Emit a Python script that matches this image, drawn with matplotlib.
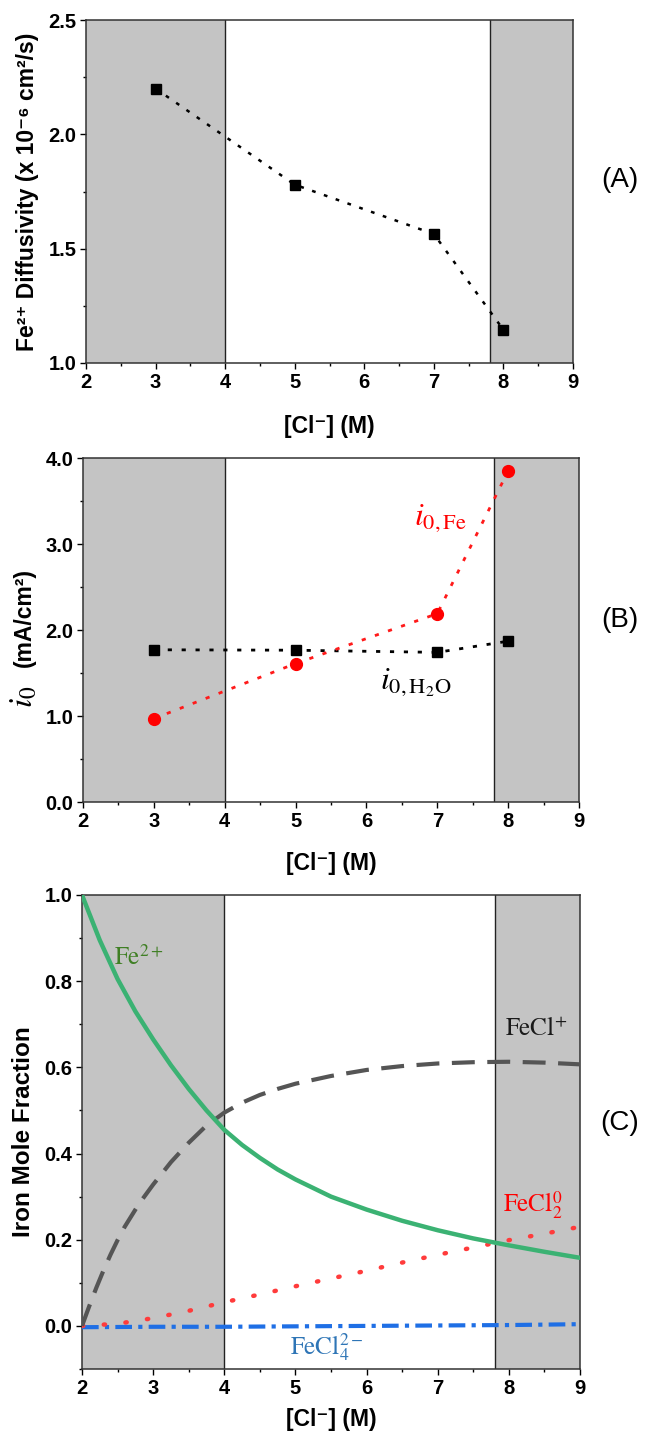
import numpy as np
import matplotlib
matplotlib.use("Agg")
import matplotlib.pyplot as plt
from matplotlib.ticker import MultipleLocator

plt.rcParams['font.family'] = ['Liberation Sans', 'DejaVu Sans']
plt.rcParams['axes.labelweight'] = 'bold'
plt.rcParams['mathtext.fontset'] = 'stix'

# (A) Fe2+ diffusivity vs chloride
cl_a = [3, 5, 7, 8]
diff_fe = [2.20, 1.78, 1.564, 1.145]

# (B) exchange current densities
cl_b = [3, 5, 7, 8]
i0_fe = [0.97, 1.61, 2.19, 3.85]
i0_h2o = [1.77, 1.765, 1.74, 1.87]

# (C) iron speciation
cl_fe2 = [2.0, 2.25, 2.5, 2.75, 3.0, 3.25, 3.5, 3.75, 4.0, 4.25, 4.5, 4.75, 5.0,
          5.5, 6.0, 6.5, 7.0, 7.5, 8.0, 8.5, 9.0]
x_fe2 = [1.0, 0.895, 0.805, 0.73, 0.665, 0.605, 0.55, 0.50, 0.455, 0.42, 0.39, 0.363, 0.34,
         0.30, 0.27, 0.244, 0.222, 0.203, 0.187, 0.172, 0.158]

cl_fecl = [2.0, 2.1, 2.2, 2.3, 2.4, 2.5, 2.6, 2.8, 3.0, 3.25, 3.5, 3.75, 4.0, 4.25, 4.5,
           4.75, 5.0, 5.5, 6.0, 6.5, 7.0, 7.5, 8.0, 8.5, 9.0]
x_fecl = [0.0, 0.045, 0.088, 0.128, 0.165, 0.199, 0.23, 0.283, 0.328, 0.38, 0.425, 0.465,
          0.495, 0.518, 0.536, 0.55, 0.562, 0.58, 0.594, 0.603, 0.609, 0.612, 0.613, 0.611, 0.607]

cl_fecl2 = [2.0, 2.5, 3.0, 3.5, 4.0, 4.5, 5.0, 5.5, 6.0, 6.5, 7.0, 7.5, 8.0, 8.5, 9.0]
x_fecl2 = [0.0, 0.005, 0.018, 0.035, 0.055, 0.073, 0.092, 0.11, 0.128, 0.147, 0.165, 0.182,
           0.199, 0.214, 0.23]

cl_fecl4 = [2, 3, 4, 5, 6, 7, 8, 9]
x_fecl4 = [-0.003, -0.002, -0.002, -0.001, 0.0, 0.001, 0.002, 0.004]

shade = '#c4c4c4'
W, H = 654, 1435

fig = plt.figure(figsize=(W / 100, H / 100), dpi=100)


def make_axes(l, r, t, b):
    return fig.add_axes([l / W, 1 - b / H, (r - l) / W, (b - t) / H])


def style(ax, ylim, ymaj, ymin):
    ax.set_xlim(2, 9)
    ax.set_ylim(*ylim)
    ax.axvspan(2, 4, color=shade, zorder=0, lw=0)
    ax.axvspan(7.8, 9, color=shade, zorder=0, lw=0)
    ax.axvline(4, color='#222222', lw=1, zorder=1)
    ax.axvline(7.8, color='#222222', lw=1, zorder=1)
    ax.xaxis.set_major_locator(MultipleLocator(1))
    ax.xaxis.set_minor_locator(MultipleLocator(0.5))
    ax.yaxis.set_major_locator(MultipleLocator(ymaj))
    ax.yaxis.set_minor_locator(MultipleLocator(ymin))
    ax.yaxis.set_major_formatter('{x:.1f}')
    ax.tick_params(which='major', direction='out', length=4, width=1, pad=3, labelsize=14.5)
    ax.tick_params(which='minor', direction='out', length=2.5, width=1)
    for sp in ax.spines.values():
        sp.set_color('#333333')
        sp.set_linewidth(1.1)


def panel_tag(y, tag):
    fig.text(620 / W, 1 - y / H, tag, fontsize=20, ha='center', va='center')


def species(ax, x, y, s, color):
    ax.text(x, y, s, color=color, fontsize=18, va='center')


# ---- (A)
ax1 = make_axes(86, 573, 20, 363)
style(ax1, (1.0, 2.5), 0.5, 0.25)
ax1.plot(cl_a, diff_fe, color='black', ls=(0, (1.5, 3.5)), lw=1.8,
         marker='s', ms=7, mfc='black', mec='black', zorder=3)
ax1.set_xlabel('[Cl⁻] (M)', fontsize=16.5)
ax1.xaxis.set_label_coords(0.5, -0.152)
ax1.set_ylabel('Fe²⁺ Diffusivity (x 10⁻⁶ cm²/s)', fontsize=16.5)
ax1.yaxis.set_label_coords(-0.097, 0.5)
panel_tag(180, '(A)')

# ---- (B)
ax2 = make_axes(83, 579, 458, 802)
style(ax2, (0.0, 4.0), 1.0, 0.5)
ax2.plot(cl_b, i0_h2o, color='black', ls=(0, (1.5, 3.5)), lw=2,
         marker='s', ms=7, mfc='black', mec='black', zorder=3)
ax2.plot(cl_b, i0_fe, color='#ff1a1a', ls=(0, (1.5, 3.5)), lw=2,
         marker='o', ms=8.5, mfc='#ff0000', mec='#ff0000', zorder=4)
ax2.text(7.05, 3.3, r'$i_{0,\mathrm{Fe}}$', color='#ff0000', fontsize=23,
         ha='center', va='center')
ax2.text(6.7, 1.4, r'$i_{0,\mathrm{H_2O}}$', color='black', fontsize=23,
         ha='center', va='center')
ax2.set_xlabel('[Cl⁻] (M)', fontsize=16.5)
ax2.xaxis.set_label_coords(0.5, -0.146)
fig.text(24 / W, 1 - 617 / H, '(mA/cm²)', fontsize=16.5, fontweight='bold',
         rotation=90, ha='center', va='center')
fig.text(24 / W, 1 - 697 / H, r'$i_0$', fontsize=24, rotation=90,
         ha='center', va='center')
panel_tag(620, '(B)')

# ---- (C)
ax3 = make_axes(82, 580, 895, 1369)
style(ax3, (-0.1, 1.0), 0.2, 0.1)
ax3.plot(cl_fecl4, x_fecl4, color='#1f6fe5', lw=3, ls=(0, (4, 1.5, 1, 1.5)), zorder=3)
ax3.plot(cl_fecl2, x_fecl2, color='#ff3b3b', lw=3.2, ls=(0, (0.3, 4.6)),
         dash_capstyle='round', zorder=3)
ax3.plot(cl_fecl, x_fecl, color='#555555', lw=3, ls=(0, (5.5, 3)), zorder=3)
ax3.plot(cl_fe2, x_fe2, color='#3bb273', lw=3.2, zorder=4)
species(ax3, 2.45, 0.855, r'$\mathrm{Fe}^{2+}$', '#3f7f24')
species(ax3, 7.95, 0.69, r'$\mathrm{FeCl}^{+}$', '#1a1a1a')
species(ax3, 7.92, 0.28, r'$\mathrm{FeCl}_{2}^{0}$', '#ff0000')
species(ax3, 4.92, -0.05, r'$\mathrm{FeCl}_{4}^{2-}$', '#2e75b6')
ax3.set_xlabel('[Cl⁻] (M)', fontsize=16.5)
ax3.xaxis.set_label_coords(0.5, -0.082)
ax3.set_ylabel('Iron Mole Fraction', fontsize=17.5)
ax3.yaxis.set_label_coords(-0.094, 0.5)
panel_tag(1123, '(C)')

# bold tick numbers once the tick set is fixed
fig.canvas.draw()
for ax in (ax1, ax2, ax3):
    plt.setp(ax.get_xticklabels() + ax.get_yticklabels(), fontweight='bold')

fig.savefig('out.png', dpi=100)
